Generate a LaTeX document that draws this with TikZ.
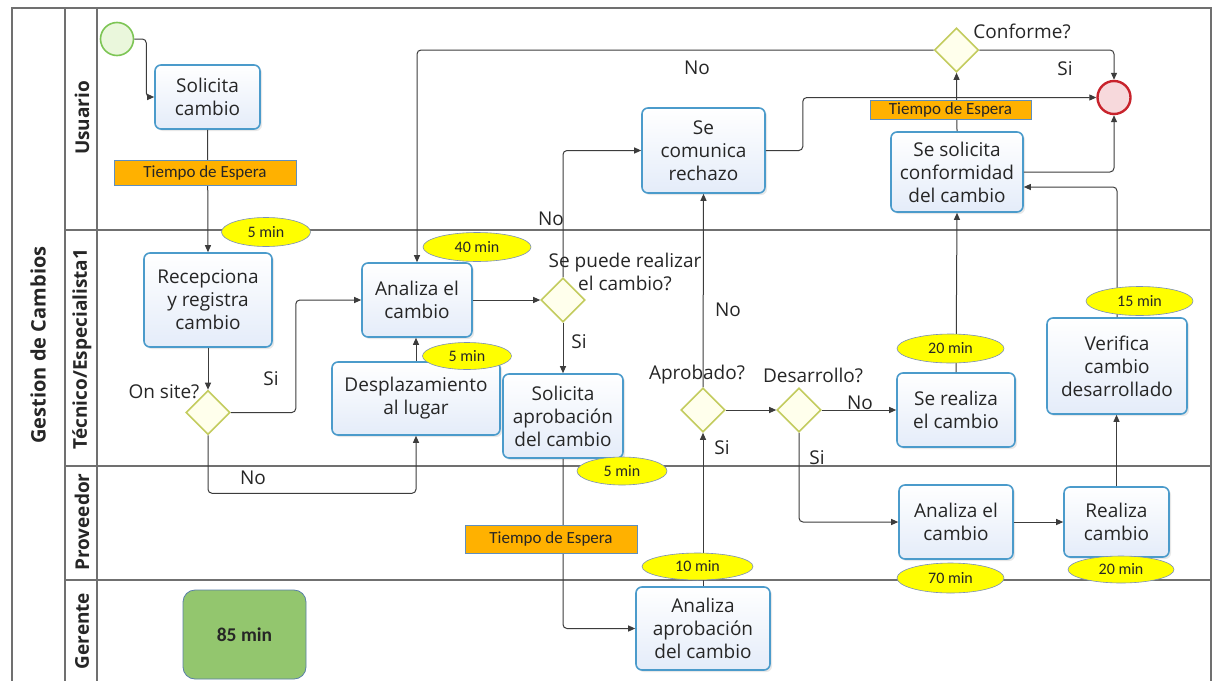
\documentclass[tikz,border=0pt]{standalone}
\usepackage{fontspec}
\setmainfont{Open Sans}
\newfontfamily\tagfont{Carlito}
\usetikzlibrary{shapes.geometric,arrows.meta,shadows}

\definecolor{framegray}{HTML}{707070}
\definecolor{taskline}{HTML}{4B9BCB}
\definecolor{taskfill}{HTML}{E4ECF9}
\definecolor{gwline}{HTML}{C3CC5E}
\definecolor{gwfill}{HTML}{FFFFEC}
\definecolor{waitfill}{HTML}{FFB100}
\definecolor{waitline}{HTML}{5E8FC0}
\definecolor{tagfill}{HTML}{FFFF00}
\definecolor{tagline}{HTML}{7B8FB8}
\definecolor{startline}{HTML}{7DC555}
\definecolor{startfill}{HTML}{EAF7DC}
\definecolor{endline}{HTML}{C8232C}
\definecolor{endfill}{HTML}{F7D9DC}
\definecolor{sumfill}{HTML}{93C66E}
\definecolor{sumline}{HTML}{5A7FA8}
\definecolor{ink}{HTML}{262626}
\definecolor{flow}{HTML}{3C3C3C}

\tikzset{
  x=1pt, y=-1pt,
  frameline/.style={draw=framegray, line width=1.2pt},
  taskbox/.style={rounded corners=6pt, draw=taskline, line width=1.6pt,
    top color=white, bottom color=taskfill, align=center, text=ink,
    font=\fontsize{19}{23}\selectfont, inner sep=0pt,
    drop shadow={opacity=0.18, shadow xshift=2pt, shadow yshift=-2pt}},
  gate/.style={diamond, draw=gwline, fill=gwfill, line width=1.6pt,
    minimum width=44pt, minimum height=44pt, inner sep=0pt},
  waitbox/.style={draw=waitline, fill=waitfill, line width=0.6pt, inner sep=0pt,
    text=black!85, font=\tagfont\fontsize{17}{18}\selectfont},
  timetag/.style={ellipse, draw=tagline, fill=tagfill, line width=0.6pt,
    inner sep=0pt, text=black!85, font=\tagfont\fontsize{16}{18}\selectfont},
  lbl/.style={text=ink, font=\fontsize{19}{23}\selectfont, inner sep=0pt, align=center},
  lanelbl/.style={rotate=90, text=ink, font=\bfseries\fontsize{19}{22}\selectfont, inner sep=0pt},
  flowline/.style={draw=flow, line width=1pt, rounded corners=4pt,
    -{Triangle[length=7pt,width=6pt]}},
}

\begin{document}
\begin{tikzpicture}
\useasboundingbox (0,0) rectangle (1217,680);
\clip (0,0) rectangle (1217,680);
\fill[white] (0,0) rectangle (1217,680);

% pool and lanes
\draw[frameline] (12,8) rectangle (1211,700);
\draw[frameline] (65,8) -- (65,700);
\draw[frameline] (97,8) -- (97,700);
\draw[frameline] (65,230) -- (1211,230);
\draw[frameline] (65,466) -- (1211,466);
\draw[frameline] (65,580) -- (1211,580);

\node[lanelbl, font=\bfseries\fontsize{20}{22}\selectfont] (pool) at (38,345) {Gestion de Cambios};
\node[lanelbl] (lnuser) at (82,118) {Usuario};
\node[lanelbl] (lntec) at (82,349) {Técnico/Especialista1};
\node[lanelbl] (lnprov) at (82,522) {Proveedor};
\node[lanelbl] (lnger) at (82,631) {Gerente};

% events
\node[circle, draw=startline, fill=startfill, line width=1.6pt, minimum size=33pt, inner sep=0pt] (start) at (117,39) {};
\node[circle, draw=endline, fill=endfill, line width=2.4pt, minimum size=33pt, inner sep=0pt] (end) at (1114,97.5) {};

% tasks
\node[taskbox, minimum width=105pt, minimum height=64pt] (solicita) at (207.5,97) {Solicita\\cambio};
\node[taskbox, minimum width=128pt, minimum height=94pt] (recep) at (208,300) {Recepciona\\y registra\\cambio};
\node[taskbox, minimum width=110pt, minimum height=74pt] (analiza) at (417,300) {Analiza el\\cambio};
\node[taskbox, minimum width=168pt, minimum height=73pt] (desp) at (416,398.5) {Desplazamiento\\al lugar};
\node[taskbox, minimum width=120pt, minimum height=84pt] (solapr) at (563,416) {Solicita\\aprobación\\del cambio};
\node[taskbox, minimum width=134pt, minimum height=83pt] (anapr) at (703,628.5) {Analiza\\aprobación\\del cambio};
\node[taskbox, minimum width=123pt, minimum height=85pt] (comunica) at (703.5,150.5) {Se\\comunica\\rechazo};
\node[taskbox, minimum width=132pt, minimum height=80pt] (solconf) at (957,172) {Se solicita\\conformidad\\del cambio};
\node[taskbox, minimum width=118pt, minimum height=74pt] (realiza) at (956,410) {Se realiza\\el cambio};
\node[taskbox, minimum width=140pt, minimum height=96pt] (verif) at (1117,366) {Verifica\\cambio\\desarrollado};
\node[taskbox, minimum width=114pt, minimum height=74pt] (anaprov) at (956,522) {Analiza el\\cambio};
\node[taskbox, minimum width=105pt, minimum height=70pt] (realcam) at (1116.5,522) {Realiza\\cambio};

% gateways
\node[gate] (onsite) at (208,412.5) {};
\node[gate] (sepuede) at (563,300) {};
\node[gate] (aprob) at (703,410) {};
\node[gate] (desa) at (799,410) {};
\node[gate] (conforme) at (956.5,50) {};

% total time
\node[rounded corners=12pt, draw=sumline, fill=sumfill, line width=0.8pt,
      minimum width=123pt, minimum height=89pt, inner sep=0pt, text=black!85,
      font=\tagfont\bfseries\fontsize{19.5}{22}\selectfont] (total) at (244.5,634.5) {85 min};

% sequence flows
\draw[flowline] (start.east) -- ++(12,0) |- (solicita.west);
\draw[flowline] (solicita.south) -- (recep.north);
\draw[flowline] (recep.south) -- (onsite.north);
\draw[flowline] (onsite.east) -- ++(65,0) |- (analiza.west);
\draw[flowline] (onsite.south) -- ++(0,58) -| (desp.south);
\draw[flowline] (desp.north) -- (desp.north |- analiza.south);
\draw[flowline] (analiza.east) -- (sepuede.west);
\draw[flowline] (sepuede.south) -- (solapr.north);
\draw[flowline] (sepuede.north) |- (comunica.west);
\draw[flowline] (solapr.south) |- (anapr.west);
\draw[flowline] (anapr.north) -- (aprob.south);
\draw[flowline] (aprob.north) -- (comunica.south);
\draw[flowline] (aprob.east) -- (desa.west);
\draw[flowline] (desa.east) -- (realiza.west);
\draw[flowline] (desa.south) |- (anaprov.west);
\draw[flowline] (anaprov.east) -- (realcam.west);
\draw[flowline] (realcam.north) -- (realcam.north |- verif.south);
\draw[flowline] (verif.north) |- ([yshift=-15pt]solconf.east);
\draw[flowline] (realiza.north) -- (solconf.south);
\draw[flowline] (solconf.north) -- (conforme.south);
\draw[flowline] (solconf.east) -| (end.south);
\draw[flowline] (comunica.east) -- ++(37,0) |- (end.west);
\draw[flowline] (conforme.east) -| (end.north);
\draw[flowline] (conforme.west) -| (analiza.north);

% waiting times
\node[waitbox, minimum width=182pt, minimum height=25pt] (wait1) at (205,172.5) {Tiempo de Espera};
\node[waitbox, minimum width=172pt, minimum height=28pt] (wait2) at (551,539) {Tiempo de Espera};
\node[waitbox, minimum width=161pt, minimum height=19pt] (wait3) at (950.5,109.5) {Tiempo de Espera};

% task durations
\node[timetag, minimum width=89pt, minimum height=29pt] (t1) at (266,232) {5 min};
\node[timetag, minimum width=108pt, minimum height=29pt] (t2) at (477,247) {40 min};
\node[timetag, minimum width=89pt, minimum height=27pt] (t3) at (467,356) {5 min};
\node[timetag, minimum width=90pt, minimum height=28pt] (t4) at (622,471) {5 min};
\node[timetag, minimum width=111pt, minimum height=27pt] (t5) at (697.5,566.5) {10 min};
\node[timetag, minimum width=107pt, minimum height=29pt] (t6) at (950.5,348.5) {20 min};
\node[timetag, minimum width=107pt, minimum height=29pt] (t7) at (1139.5,301) {15 min};
\node[timetag, minimum width=107pt, minimum height=30pt] (t8) at (950.5,578) {70 min};
\node[timetag, minimum width=106pt, minimum height=27pt] (t9) at (1121,569.5) {20 min};

% gateway and flow labels
\node[lbl] (qonsite) at (164,392) {On site?};
\node[lbl] (qpuede) at (625,272) {Se puede realizar\\el cambio?};
\node[lbl] (qaprob) at (697,375) {Aprobado?};
\node[lbl] (qdesa) at (813,375) {Desarrollo?};
\node[lbl] (qconf) at (1022,31) {Conforme?};
\node[lbl] (lsi1) at (271,379) {Si};
\node[lbl] (lno1) at (253,478) {No};
\node[lbl] (lsi2) at (579,342) {Si};
\node[lbl] (lno2) at (551,219) {No};
\node[lbl] (lno3) at (728,310) {No};
\node[lbl] (lsi3) at (722,448) {Si};
\node[lbl] (lno4) at (860,403) {No};
\node[lbl] (lsi4) at (817,458) {Si};
\node[lbl] (lno5) at (697,68) {No};
\node[lbl] (lsi5) at (1065,69) {Si};
\end{tikzpicture}
\end{document}
